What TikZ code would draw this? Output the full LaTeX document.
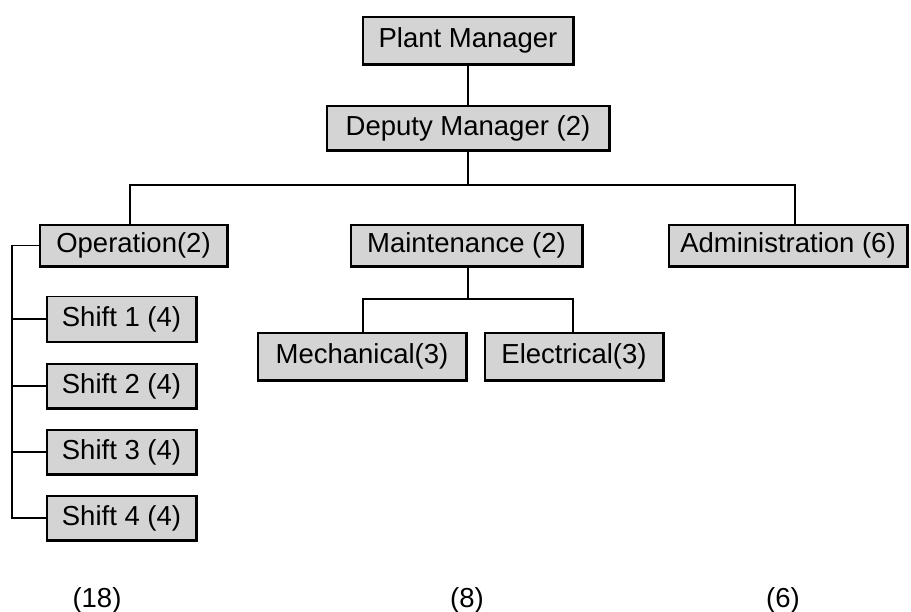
\documentclass[tikz,border=0pt]{standalone}
\usepackage{fontspec}
\setmainfont{Liberation Sans}
\begin{document}
\begin{tikzpicture}[x=1pt,y=1pt,
  orgbox/.style={draw=black,line width=1.3pt,fill=boxgray,inner sep=0pt,font=\fontsize{27.5}{32}\selectfont,anchor=center},
  lbl/.style={font=\fontsize{27.5}{32}\selectfont},
  conn/.style={line width=1.5pt},
  thickconn/.style={line width=2.6pt},
  shade/.style={line width=2.2pt}]
\definecolor{boxgray}{HTML}{D4D4D4}
\useasboundingbox (0,0) rectangle (911,612);
% y' = 612 - y
\node[orgbox,minimum width=210,minimum height=47] (pm) at (468,571.5) {Plant Manager};
\node[orgbox,minimum width=282,minimum height=44] (dm) at (468,484) {Deputy Manager (2)};
\node[orgbox,minimum width=187,minimum height=41] (op) at (133.5,366.5) {Operation(2)};
\node[orgbox,minimum width=231,minimum height=41] (mt) at (466.5,366.5) {Maintenance (2)};
\node[orgbox,minimum width=238,minimum height=41] (ad) at (788,366.5) {Administration (6)};
\node[orgbox,minimum width=208,minimum height=47] (me) at (362,255.5) {Mechanical(3)};
\node[orgbox,minimum width=178,minimum height=47] (el) at (574,255.5) {Electrical(3)};
\node[orgbox,minimum width=149,minimum height=45] (s1) at (121.5,293) {Shift 1 (4)};
\node[orgbox,minimum width=149,minimum height=44] (s2) at (121.5,226) {Shift 2 (4)};
\node[orgbox,minimum width=149,minimum height=44] (s3) at (121.5,160) {Shift 3 (4)};
\node[orgbox,minimum width=149,minimum height=44] (s4) at (121.5,94) {Shift 4 (4)};
\foreach \n in {pm,dm,op,mt,ad,me,el,s1,s2,s3,s4}
  \draw[shade] (\n.north east) -- (\n.south east) -- (\n.south west);
\node[lbl] (t18) at (97,12) {(18)};
\node[lbl] (t8) at (467,12) {(8)};
\node[lbl] (t6) at (783,12) {(6)};
% connectors
\coordinate (bus) at (468,427);
\coordinate (mbus) at (468,313);
\draw[conn] (pm.south) -- (dm.north);
\draw[thickconn] (dm.south) -- (bus);
\draw[conn] ([xshift=-3.5]op.north) |- (bus) -| ([xshift=7]ad.north);
\draw[thickconn] ([xshift=1.5]mt.south) -- (mbus);
\draw[conn] ([xshift=1]me.north) |- (mbus) -| ([xshift=-1]el.north);
\coordinate (lb) at (12,366.5);
\draw[conn] (op.west) -- (lb) |- (s4.west);
\draw[conn] (lb |- s1.west) -- (s1.west);
\draw[conn] (lb |- s2.west) -- (s2.west);
\draw[conn] (lb |- s3.west) -- (s3.west);
\end{tikzpicture}
\end{document}
